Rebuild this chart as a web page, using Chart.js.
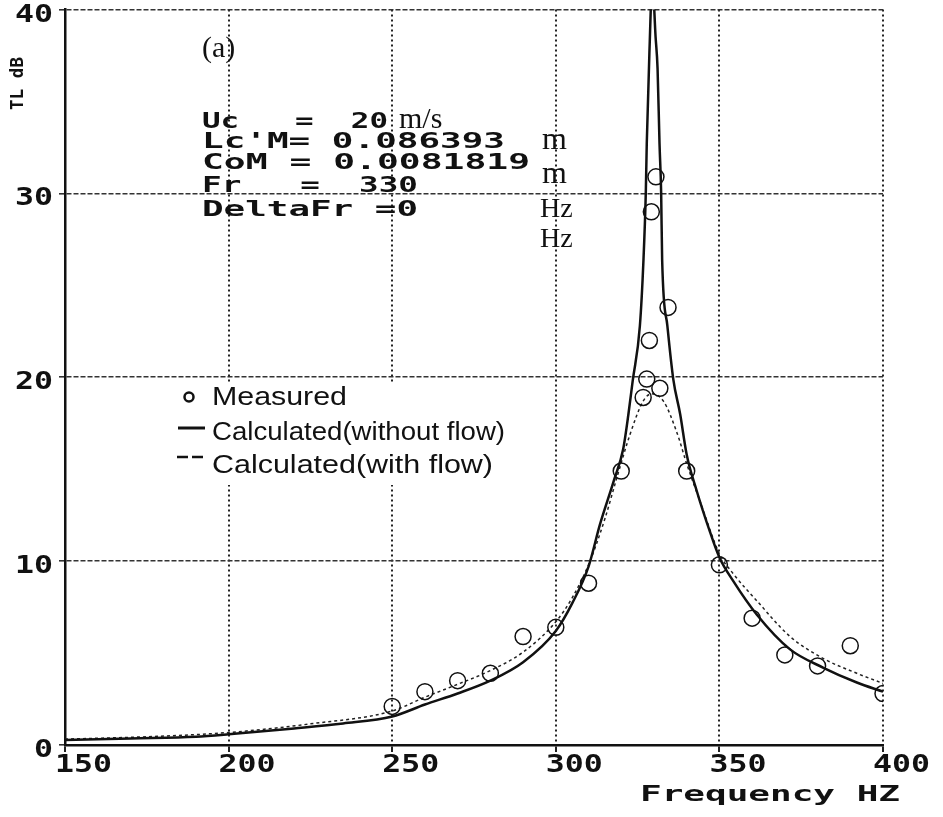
<!DOCTYPE html>
<html>
<head>
<meta charset="utf-8">
<title>TL vs Frequency</title>
<script src="https://cdn.jsdelivr.net/npm/chart.js@4/dist/chart.umd.min.js"></script>
<style>
  html, body { margin: 0; padding: 0; background: #fff; }
  canvas { display: block; }
</style>
</head>
<body>
<canvas id="tlChart" width="943" height="817"></canvas>
<script>
// axis ticks
const xTicks = [150, 200, 250, 300, 350, 400];
const yTicks = [0, 10, 20, 30, 40];

// measured points (circles)
const measuredFreq = [250, 260, 270, 280, 290, 300, 310, 320, 326.7, 327.8, 328.6, 329.2, 330.6, 331.8, 334.3, 340, 350, 360, 370, 380, 390, 400];
const measuredTL   = [2.1, 2.9, 3.5, 3.9, 5.9, 6.4, 8.8, 14.9, 18.9, 19.9, 22.0, 29.0, 30.9, 19.4, 23.8, 14.9, 9.8, 6.9, 4.9, 4.3, 5.4, 2.8];

// calculated, without flow (solid)
const noFlowFreq = [150, 170, 190, 200, 220, 235, 250, 260, 270, 280, 290, 300, 305, 310, 313.5, 317.6, 320.6, 322.2, 323.5, 325.7, 326.8, 327.5, 327.8, 328.6, 329.5, 330.5, 331.1, 331.7, 332.2, 332.5, 334.1, 335.9, 338, 340, 343.1, 347.1, 350, 354.3, 361.4, 371.6, 381.8, 392, 400];
const noFlowTL   = [0.27, 0.36, 0.45, 0.58, 0.9, 1.17, 1.55, 2.2, 2.8, 3.5, 4.5, 6.2, 7.7, 9.7, 12.0, 14.3, 16.1, 18.0, 19.8, 22.8, 26.4, 30.0, 32.7, 37.6, 41.5, 38.5, 36.8, 32.7, 30.0, 26.4, 22.8, 19.9, 18.0, 15.8, 13.8, 11.6, 10.2, 8.9, 7.1, 5.2, 4.2, 3.4, 2.9];

// calculated, with flow (dashed)
const flowFreq = [150, 175, 200, 225, 250, 260, 270, 280, 290, 300, 305, 310, 315, 318.6, 322.7, 326.7, 329.3, 332.9, 337, 340, 344, 350, 354.3, 361.4, 371.6, 381.8, 392, 400];
const flowTL   = [0.32, 0.45, 0.68, 1.15, 1.85, 2.6, 3.3, 4.05, 5.05, 6.7, 8.0, 9.8, 12.3, 14.5, 16.9, 18.7, 19.1, 18.7, 17.0, 15.3, 13.3, 10.4, 9.3, 7.85, 5.9, 4.7, 3.9, 3.35];

const seriesNames = ["Measured", "Calculated(without flow)", "Calculated(with flow)"];
const paramLines = ["Uc   =  20", "Lc'M= 0.086393", "CoM = 0.0081819", "Fr   =  330", "DeltaFr =0"];
const paramUnits = ["m/s", "m", "m", "Hz", "Hz"];

const MONO = '"DejaVu Sans Mono", "Liberation Mono", monospace';
const SERIF = '"Liberation Serif", "DejaVu Serif", serif';
const SANS = '"Liberation Sans", Arial, sans-serif';

function pts(xs, ys) {
  return xs.map((x, i) => ({ x, y: ys[i] }));
}

// draw text stretched horizontally so it spans x..right (old plotter fonts are wide)
function fitText(ctx, text, x, y, right) {
  ctx.save();
  ctx.textAlign = "left";
  const w = ctx.measureText(text).width;
  ctx.translate(x, y);
  ctx.scale((right - x) / w, 1);
  ctx.fillText(text, 0, 0);
  ctx.restore();
}

const notes = {
  id: "notes",
  afterDraw(chart) {
    const ctx = chart.ctx;
    const xs = chart.scales.x;
    const ys = chart.scales.y;
    ctx.save();
    ctx.fillStyle = "#111";
    ctx.strokeStyle = "#111";
    ctx.textBaseline = "alphabetic";

    // tick labels
    ctx.font = "bold 24px " + MONO;
    xTicks.forEach(v => {
      const px = xs.getPixelForValue(v);
      fitText(ctx, String(v), px - 10, 772, px + 47);
    });
    yTicks.forEach(v => {
      const py = ys.getPixelForValue(v);
      const s = String(v);
      fitText(ctx, s, 53 - 19 * s.length, py + 12, 53);
    });

    // (a)
    ctx.font = "30px " + SERIF;
    ctx.fillText("(a)", 202, 57);

    // parameter block
    ctx.font = "bold 21px " + MONO;
    const baseY = [128, 148, 169, 192, 216];
    const rightX = [388, 505, 530, 418, 418];
    paramLines.forEach((t, i) => fitText(ctx, t, 202, baseY[i], rightX[i]));

    ctx.font = "30px " + SERIF;
    ctx.fillText(paramUnits[0], 399, 128);
    ctx.font = "32px " + SERIF;
    ctx.fillText(paramUnits[1], 542, 149);
    ctx.fillText(paramUnits[2], 542, 183);
    ctx.font = "28px " + SERIF;
    ctx.fillText(paramUnits[3], 540, 217);
    ctx.fillText(paramUnits[4], 540, 247);

    // y title
    ctx.save();
    ctx.font = "bold 18px " + MONO;
    ctx.translate(23, 110);
    ctx.rotate(-Math.PI / 2);
    fitText(ctx, "TL dB", 0, 0, 53);
    ctx.restore();

    // x title
    ctx.font = "bold 22px " + MONO;
    fitText(ctx, "Frequency HZ", 640, 801, 900);

    // legend
    ctx.fillStyle = "#fff";
    ctx.fillRect(150, 382, 370, 103);
    ctx.fillStyle = "#111";
    ctx.lineWidth = 2.5;
    ctx.beginPath();
    ctx.arc(189, 397, 4.5, 0, Math.PI * 2);
    ctx.stroke();

    ctx.lineWidth = 3;
    ctx.beginPath();
    ctx.moveTo(178, 428);
    ctx.lineTo(205, 428);
    ctx.stroke();

    ctx.lineWidth = 2.5;
    ctx.setLineDash([11, 4]);
    ctx.beginPath();
    ctx.moveTo(177, 457);
    ctx.lineTo(205, 457);
    ctx.stroke();
    ctx.setLineDash([]);

    ctx.font = "25px " + SANS;
    fitText(ctx, seriesNames[0], 212, 405, 347);
    fitText(ctx, seriesNames[1], 212, 440, 505);
    fitText(ctx, seriesNames[2], 212, 473, 493);
    ctx.restore();
  }
};

new Chart(document.getElementById("tlChart"), {
  type: "scatter",
  data: {
    datasets: [
      {
        label: seriesNames[0],
        data: pts(measuredFreq, measuredTL),
        showLine: false,
        pointStyle: "circle",
        pointRadius: 8,
        pointBorderWidth: 1.5,
        borderColor: "#111",
        backgroundColor: "rgba(0,0,0,0)"
      },
      {
        label: seriesNames[1],
        data: pts(noFlowFreq, noFlowTL),
        showLine: true,
        pointRadius: 0,
        borderColor: "#111",
        borderWidth: 2.5,
        cubicInterpolationMode: "monotone"
      },
      {
        label: seriesNames[2],
        data: pts(flowFreq, flowTL),
        showLine: true,
        pointRadius: 0,
        borderColor: "#222",
        borderWidth: 1.5,
        borderDash: [3, 3],
        cubicInterpolationMode: "monotone"
      }
    ]
  },
  options: {
    responsive: false,
    animation: false,
    layout: { padding: { top: 6, right: 60, left: 0, bottom: 0 } },
    plugins: {
      legend: { display: false },
      tooltip: { enabled: false }
    },
    scales: {
      x: {
        type: "linear",
        min: 150,
        max: 400,
        afterBuildTicks: s => { s.ticks = xTicks.map(v => ({ value: v })); },
        afterFit: s => {
          s.height = 72;
          s.paddingLeft = 0;
          s.paddingRight = 0;
        },
        ticks: { display: false },
        grid: { color: "#222", lineWidth: 2, tickLength: 7 },
        border: { display: true, color: "#111", width: 2.5, dash: [2, 3] }
      },
      y: {
        type: "linear",
        min: 0,
        max: 40,
        afterBuildTicks: s => { s.ticks = yTicks.map(v => ({ value: v })); },
        afterFit: s => {
          s.width = 65;
          s.paddingTop = 0;
          s.paddingBottom = 0;
        },
        ticks: { display: false },
        grid: { color: "#333", lineWidth: 1.6, tickLength: 6 },
        border: { display: true, color: "#111", width: 2.5, dash: [5, 2] }
      }
    }
  },
  plugins: [notes]
});
</script>
</body>
</html>
